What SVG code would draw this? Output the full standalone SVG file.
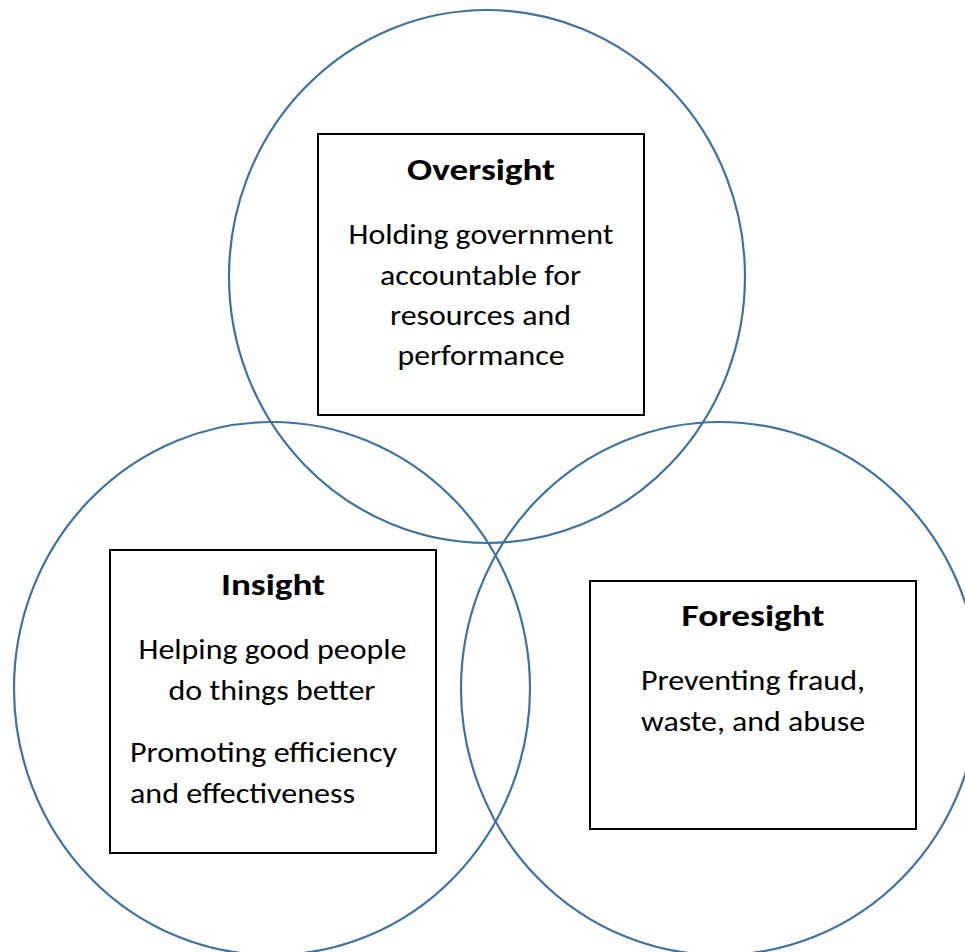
<svg xmlns="http://www.w3.org/2000/svg" width="965" height="952" viewBox="0 0 965 952">
<style>
.c{fill:none;stroke:#41719C;stroke-width:2.2}
.b{fill:#fff;stroke:#000;stroke-width:2}
.t{font-family:Carlito,Calibri,Lato,"Open Sans","Liberation Sans",sans-serif;font-size:29px;fill:#000}
.h{font-family:Carlito,Calibri,Lato,"Open Sans","Liberation Sans",sans-serif;font-size:31px;font-weight:bold;fill:#000}
</style>
<rect width="965" height="952" fill="#fff"/>
<g id="circles">
<ellipse class="c" cx="487" cy="276.5" rx="258" ry="266.5"/>
<ellipse class="c" cx="272" cy="688.5" rx="258" ry="266.5"/>
<ellipse class="c" cx="720" cy="688.5" rx="259" ry="266.5"/>
</g>
<g id="oversight">
<rect class="b" x="318" y="134" width="326" height="281"/>
<text class="h" x="481" y="180" text-anchor="middle" textLength="148" lengthAdjust="spacingAndGlyphs">Oversight</text>
<text class="t" x="481" y="244" text-anchor="middle" textLength="265" lengthAdjust="spacingAndGlyphs">Holding government</text>
<text class="t" x="480.5" y="285" text-anchor="middle" textLength="201" lengthAdjust="spacingAndGlyphs">accountable for</text>
<text class="t" x="480.5" y="325" text-anchor="middle" textLength="181" lengthAdjust="spacingAndGlyphs">resources and</text>
<text class="t" x="481" y="365" text-anchor="middle" textLength="167" lengthAdjust="spacingAndGlyphs">performance</text>
</g>
<g id="insight">
<rect class="b" x="110" y="550" width="326" height="303"/>
<text class="h" x="273" y="595" text-anchor="middle" textLength="104" lengthAdjust="spacingAndGlyphs">Insight</text>
<text class="t" x="272.5" y="659" text-anchor="middle" textLength="268" lengthAdjust="spacingAndGlyphs">Helping good people</text>
<text class="t" x="272" y="700" text-anchor="middle" textLength="207" lengthAdjust="spacingAndGlyphs">do things better</text>
<text class="t" x="130" y="762" textLength="267" lengthAdjust="spacingAndGlyphs">Promoting efficiency</text>
<text class="t" x="130" y="803" textLength="225" lengthAdjust="spacingAndGlyphs">and effectiveness</text>
</g>
<g id="foresight">
<rect class="b" x="590" y="581" width="326" height="248"/>
<text class="h" x="753" y="626" text-anchor="middle" textLength="143" lengthAdjust="spacingAndGlyphs">Foresight</text>
<text class="t" x="753" y="690" text-anchor="middle" textLength="224" lengthAdjust="spacingAndGlyphs">Preventing fraud,</text>
<text class="t" x="753" y="731" text-anchor="middle" textLength="224" lengthAdjust="spacingAndGlyphs">waste, and abuse</text>
</g>
</svg>
